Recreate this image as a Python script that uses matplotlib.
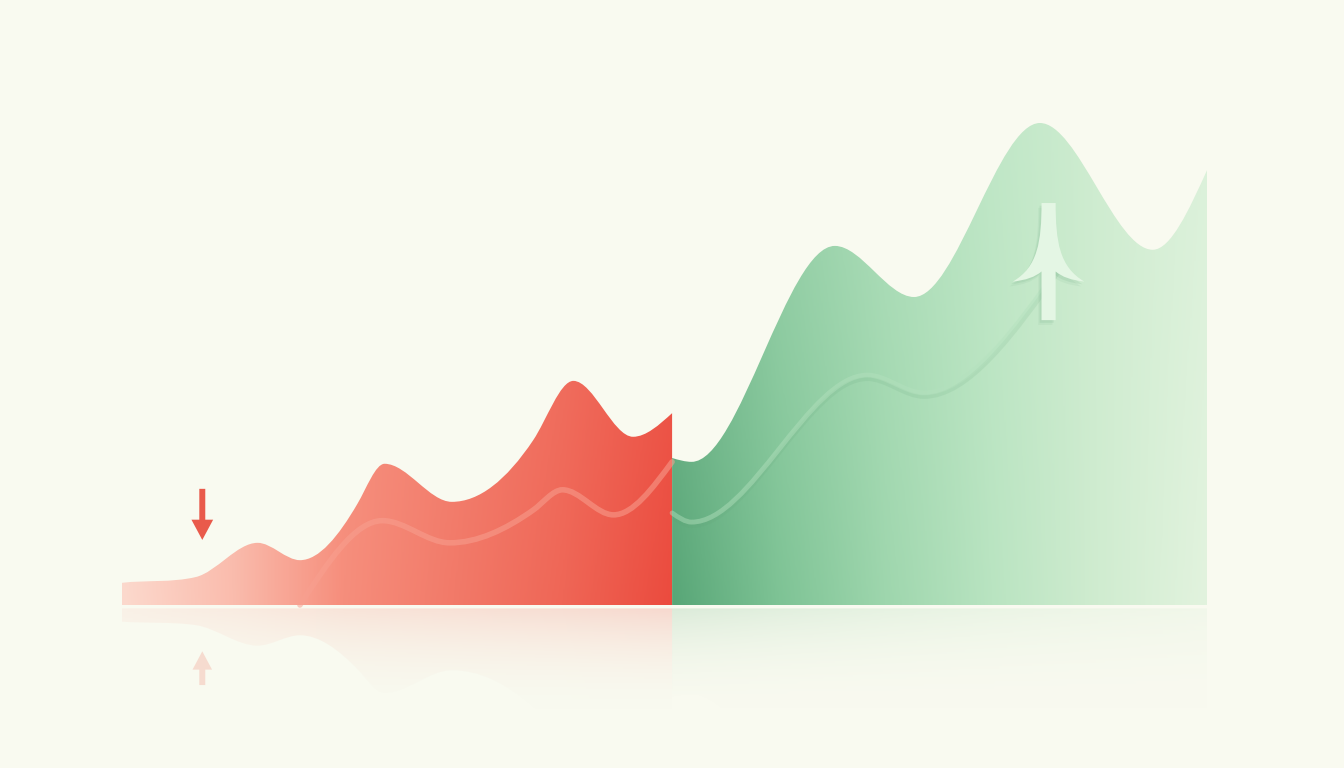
import numpy as np
import matplotlib
matplotlib.use("Agg")
import matplotlib.pyplot as plt
from matplotlib.path import Path
from matplotlib.patches import PathPatch, FancyArrow
from matplotlib.colors import LinearSegmentedColormap, to_rgb
from matplotlib.transforms import Affine2D

# ---- data (x: period 0..100, y: level) ----
red_x = [0.0, 6.8, 12.5, 16.4, 21.7, 24.2, 30.4, 37.9, 41.6, 47.1, 50.7]
red_y = [4.6, 5.8, 12.9, 9.3, 21.0, 29.3, 21.4, 34.2, 46.5, 34.9, 39.8]

red_trend_x = [16.4, 24.0, 30.2, 37.9, 40.6, 45.3, 50.7]
red_trend_y = [0.0, 17.5, 12.9, 19.7, 23.9, 18.7, 29.7]

green_x = [50.7, 52.5, 65.7, 73.0, 84.6, 95.0, 100.0]
green_y = [30.5, 29.7, 74.5, 63.9, 100.0, 73.7, 90.2]

green_trend_x = [50.7, 52.5, 68.7, 73.9, 86.5]
green_trend_y = [19.1, 17.2, 47.7, 44.0, 70.5]

down_arrow = (7.4, 24.1, 13.5)   # x, tail, tip
up_arrow = (85.4, 59.1, 83.4)    # x, bottom, top

BG = "#F9FAF0"
REFLECT = 0.6


def tangents(x, y):
    # flat at peaks and troughs, steep through the flanks
    x = np.asarray(x, float)
    y = np.asarray(y, float)
    d = np.diff(y) / np.diff(x)
    m = np.zeros_like(y)
    m[0], m[-1] = 1.5 * d[0], 1.5 * d[-1]
    for i in range(1, len(y) - 1):
        if d[i - 1] * d[i] > 0:
            c = 1.5 * (y[i + 1] - y[i - 1]) / (x[i + 1] - x[i - 1])
            lim = 3 * min(abs(d[i - 1]), abs(d[i]))
            m[i] = np.sign(c) * min(abs(c), lim)
    return m


def smooth(xs, ys, k=1.0, shift=0.0):
    xs = np.asarray(xs, float)
    ys = np.asarray(ys, float) * k + shift
    m = tangents(xs, ys)
    verts = [(xs[0], ys[0])]
    codes = [Path.MOVETO]
    for i in range(len(xs) - 1):
        dx = (xs[i + 1] - xs[i]) / 3
        verts += [(xs[i] + dx, ys[i] + m[i] * dx),
                  (xs[i + 1] - dx, ys[i + 1] - m[i + 1] * dx),
                  (xs[i + 1], ys[i + 1])]
        codes += [Path.CURVE4] * 3
    return verts, codes


def area_path(xs, ys, k=1.0, shift=0.0):
    verts, codes = smooth(xs, ys, k, shift)
    verts += [(xs[-1], shift), (xs[0], shift), (xs[0], shift)]
    codes += [Path.LINETO, Path.LINETO, Path.CLOSEPOLY]
    return Path(verts, codes)


def gradient_fill(ax, path, extent, rgba, z):
    patch = PathPatch(path, facecolor="none", edgecolor="none",
                      transform=ax.transData)
    ax.add_patch(patch)
    im = ax.imshow(rgba, extent=extent, origin="lower", aspect="auto",
                   interpolation="bilinear", zorder=z)
    im.set_clip_path(patch)


def colour_grid(cmap, lift_col, lift, nx=400, ny=300):
    tx, ty = np.meshgrid(np.linspace(0, 1, nx), np.linspace(0, 1, ny))
    rgb = cmap(tx)[..., :3]
    top = np.array(to_rgb(lift_col))
    w = (lift * ty)[..., None]
    return rgb * (1 - w) + top * w


def up_arrow_path(xc, yb, yt):
    hw, fw = 0.65, 3.3
    tip = yb + 8.0
    jn = tip + 2.1
    verts = [(xc - hw, yt),
             (xc - hw, yt - 8), (xc - 1.0, tip + 3.0), (xc - fw, tip),
             (xc - 1.5, tip + 0.4), (xc - hw, jn),
             (xc - hw, yb), (xc + hw, yb), (xc + hw, jn),
             (xc + 1.5, tip + 0.4), (xc + fw, tip),
             (xc + 1.0, tip + 3.0), (xc + hw, yt - 8), (xc + hw, yt),
             (xc - hw, yt)]
    codes = [Path.MOVETO,
             Path.CURVE4, Path.CURVE4, Path.CURVE4,
             Path.CURVE3, Path.CURVE3,
             Path.LINETO, Path.LINETO, Path.LINETO,
             Path.CURVE3, Path.CURVE3,
             Path.CURVE4, Path.CURVE4, Path.CURVE4,
             Path.CLOSEPOLY]
    return Path(verts, codes)


def main():
    fig = plt.figure(figsize=(13.44, 7.68), dpi=100)
    fig.patch.set_facecolor(BG)
    ax = fig.add_axes([0, 0, 1, 1])
    ax.set_facecolor(BG)

    red_cmap = LinearSegmentedColormap.from_list(
        "red", ["#FCD9CD", "#FABCAD", "#F68E7C", "#F27A69", "#EF6656", "#EB4B3E"])
    green_cmap = LinearSegmentedColormap.from_list(
        "green", ["#58A677", "#7EC395", "#9ED6AD", "#B9E4C1", "#D0ECD0", "#E2F3DE"])

    # main areas
    rx0, rx1 = red_x[0], red_x[-1]
    red_rgb = colour_grid(red_cmap, "#F8A898", 0.12)
    red_rgba = np.dstack([red_rgb, np.ones(red_rgb.shape[:2])])
    gradient_fill(ax, area_path(red_x, red_y), (rx0, rx1, 0, 50), red_rgba, 2)

    gx0, gx1 = green_x[0], green_x[-1]
    green_rgb = colour_grid(green_cmap, "#CDEDD2", 0.35)
    green_rgba = np.dstack([green_rgb, np.ones(green_rgb.shape[:2])])
    gradient_fill(ax, area_path(green_x, green_y), (gx0, gx1, 0, 101),
                  green_rgba, 2)

    # reflections below the baseline, fading out
    gap = -0.7
    fade_depth = 24.0
    for xs, ys, rgb, (x0, x1), a0, tint in [
            (red_x, red_y, red_rgb, (rx0, rx1), 0.34, "#FBE4DC"),
            (green_x, green_y, green_rgb, (gx0, gx1), 0.32, "#E0F0DD")]:
        ny, nx = rgb.shape[:2]
        alpha = a0 * np.linspace(0, 1, ny)[:, None] ** 2.2
        alpha = np.repeat(alpha, nx, axis=1)
        rgba = np.dstack([rgb[::-1] * 0.5 + 0.5 * np.array(to_rgb(tint)), alpha])
        gradient_fill(ax, area_path(xs, ys, -REFLECT, gap),
                      (x0, x1, gap - fade_depth, gap), rgba, 1)

    # trend lines inside the areas
    v, c = smooth(red_trend_x, red_trend_y)
    ax.add_patch(PathPatch(Path(v, c), facecolor="none", edgecolor="#F8A090",
                           lw=4, alpha=0.55, zorder=3, capstyle="round"))
    v, c = smooth(green_trend_x, green_trend_y, shift=-0.8)
    ax.add_patch(PathPatch(Path(v, c), facecolor="none", edgecolor="#5E9F74",
                           lw=3, alpha=0.12, zorder=3))
    v, c = smooth(green_trend_x, green_trend_y)
    ax.add_patch(PathPatch(Path(v, c), facecolor="none", edgecolor="#B4E1BE",
                           lw=3.5, alpha=0.45, zorder=3, capstyle="round"))

    # red down arrow and its faint reflection
    axx, tail, tip = down_arrow
    ax.add_patch(FancyArrow(axx, tail, 0, tip - tail, width=0.55,
                            head_width=2.0, head_length=4.2,
                            length_includes_head=True, color="#E95A4B",
                            lw=0, zorder=4))
    k = 0.66
    ax.add_patch(FancyArrow(axx, gap - tail * k, 0, (tail - tip) * k,
                            width=0.55, head_width=1.8, head_length=3.8,
                            length_includes_head=True, color="#F2A292",
                            alpha=0.35, lw=0, zorder=4))

    # pale green up arrow with a soft shadow
    ux, ub, ut = up_arrow
    arrow = up_arrow_path(ux, ub, ut)
    for off, a in [((-0.3, -1.0), 0.08), ((-0.18, -0.55), 0.12)]:
        shadow = arrow.transformed(Affine2D().translate(*off))
        ax.add_patch(PathPatch(shadow, facecolor="#5E9E74", edgecolor="none",
                               alpha=a, zorder=5))
    ax.add_patch(PathPatch(arrow, facecolor="#E4F6E4", edgecolor="none",
                           zorder=6))

    ax.set_xlim(-122 / 10.85, (1344 - 122) / 10.85)
    ax.set_ylim(-163 / 4.82, 605 / 4.82)
    ax.axis("off")
    fig.savefig("out.png", dpi=100, facecolor=BG)


if __name__ == "__main__":
    main()
